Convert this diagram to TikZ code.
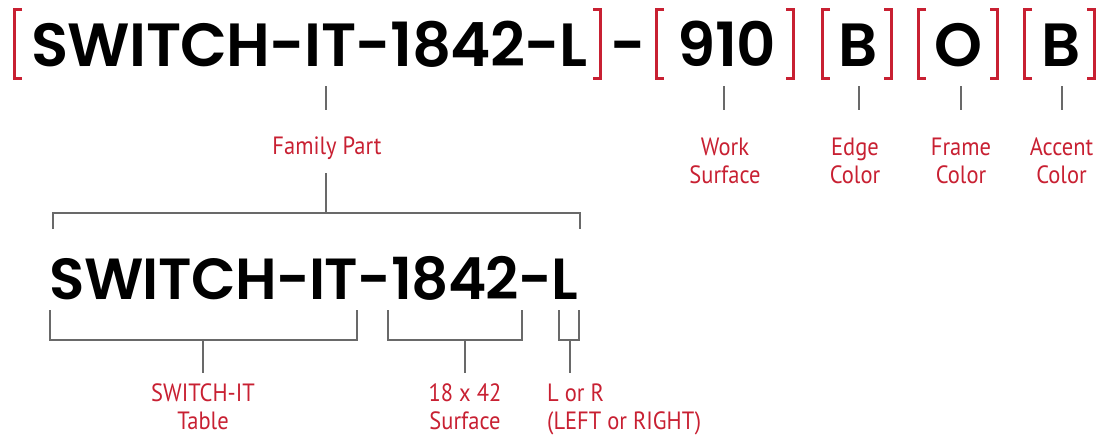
\documentclass[tikz,border=0pt]{standalone}
\usepackage{fontspec}
\newfontfamily\codefont[LetterSpace=-1]{Poppins SemiBold}
\newfontfamily\labfont[FakeStretch=0.9]{PT Sans}
\definecolor{brkred}{RGB}{200,32,50}
\definecolor{lingray}{RGB}{105,105,105}
\tikzset{
  brk/.style={draw=brkred,line width=3pt,line join=miter,line cap=butt},
  conn/.style={draw=lingray,line width=1.5pt},
  code/.style={inner sep=0pt,font=\codefont\fontsize{61}{61}\selectfont,text=black},
  codesmall/.style={inner sep=0pt,font=\codefont\fontsize{58}{58}\selectfont,text=black},
  lab/.style={inner sep=0pt,font=\labfont\fontsize{25}{28}\selectfont,text=brkred,align=center},
}
\newcommand\LBr[1]{\draw[brk] (#1+9,9.5) -- (#1+1.5,9.5) -- (#1+1.5,78.5) -- (#1+9,78.5);}
\newcommand\RBr[1]{\draw[brk] (#1-9,9.5) -- (#1-1.5,9.5) -- (#1-1.5,78.5) -- (#1-9,78.5);}
\begin{document}
\begin{tikzpicture}[x=1pt,y=-1pt]
\useasboundingbox (0,0) rectangle (1101,434);
% top row
\LBr{13}\RBr{602}
\LBr{655}\RBr{795}
\LBr{821}\RBr{893}
\LBr{917}\RBr{999}
\LBr{1023}\RBr{1096}
\node[code,anchor=base west] (fam) at (31,66) {SWITCH-IT-1842-L};
\node[code,anchor=base] (dash) at (628,66) {-};
\node[code,anchor=base] (ws) at (727,66) {910};
\node[code,anchor=base] (ec) at (858,66) {B};
\node[code,anchor=base] (fc) at (958.5,66) {O};
\node[code,anchor=base] (ac) at (1061.5,66) {B};
% ticks under top row
\coordinate (t1a) at (326,86); \coordinate (t1b) at (326,110);
\coordinate (t2a) at (724,86); \coordinate (t2b) at (724,110);
\coordinate (t3a) at (859,86); \coordinate (t3b) at (859,110);
\coordinate (t4a) at (961,86); \coordinate (t4b) at (961,110);
\coordinate (t5a) at (1062,86); \coordinate (t5b) at (1062,110);
\foreach \i in {1,...,5} {\draw[conn] (t\i a) -- (t\i b);}
% top labels
\node[lab,anchor=base] (lfam) at (327,154) {Family Part};
\node[lab,anchor=base] (lws) at (725,183) {Work\\Surface};
\node[lab,anchor=base] (lec) at (855,183) {Edge\\Color};
\node[lab,anchor=base] (lfc) at (961,183) {Frame\\Color};
\node[lab,anchor=base] (lac) at (1061.5,183) {Accent\\Color};
% family bracket
\coordinate (fb0) at (326,173);
\coordinate (fbm) at (326,213);
\coordinate (fbl) at (53,229);
\coordinate (fbr) at (580,229);
\draw[conn] (fb0) -- (fbm);
\draw[conn] (fbl) |- (fbm) -| (fbr);
% lower code
\node[codesmall,anchor=base west] (fam2) at (49,299) {SWITCH-IT-1842-L};
% lower brackets
\coordinate (b1l) at (50,310); \coordinate (b1r) at (357,310); \coordinate (b1m) at (203,340); \coordinate (b1t) at (203,373);
\coordinate (b2l) at (388,310); \coordinate (b2r) at (522,310); \coordinate (b2m) at (465,340); \coordinate (b2t) at (465,373);
\coordinate (b3l) at (559,310); \coordinate (b3r) at (579,310); \coordinate (b3m) at (570,340); \coordinate (b3t) at (570,373);
\foreach \i in {1,2,3} {
  \draw[conn] (b\i l) |- (b\i m) -| (b\i r);
  \draw[conn] (b\i m) -- (b\i t);
}
% lower labels
\node[lab,anchor=base] (lsw) at (203,429) {SWITCH-IT\\Table};
\node[lab,anchor=base] (lsz) at (465,429) {18 x 42\\Surface};
\node[lab,anchor=base west,align=left] (llr) at (547,429) {L or R\\(LEFT or RIGHT)};
\end{tikzpicture}
\end{document}
